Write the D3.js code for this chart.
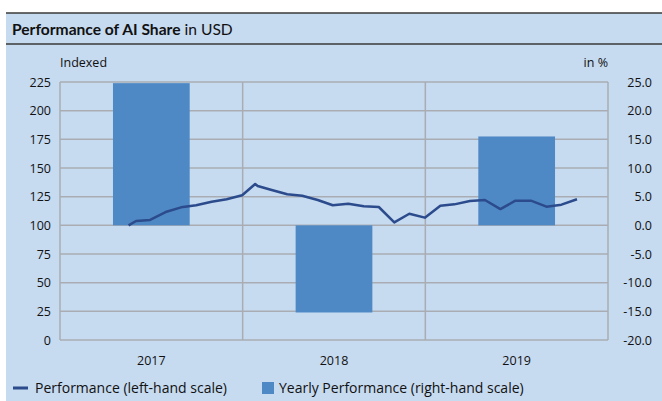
<!DOCTYPE html>
<html>
<head>
<meta charset="utf-8">
<script src="https://cdn.jsdelivr.net/npm/d3@7"></script>
<style>
  body { margin: 0; background: #ffffff; }
  svg { display: block; font-family: "Open Sans", "Noto Sans", sans-serif; }
</style>
</head>
<body>
<div id="chart"></div>
<script>
// ---------- data ----------
let years = ["2017", "2018", "2019"];
let yearlyPerf = [24.8, -15.2, 15.5];

let perfDates = ["2017-05-18", "2017-06-02", "2017-06-30", "2017-07-31", "2017-08-31", "2017-09-30",
  "2017-10-31", "2017-11-30", "2017-12-31", "2018-01-26", "2018-01-31", "2018-02-28",
  "2018-03-31", "2018-04-30", "2018-05-31", "2018-06-30", "2018-07-31", "2018-08-31",
  "2018-09-30", "2018-10-31", "2018-11-30", "2018-12-31", "2019-01-31", "2019-02-28",
  "2019-03-31", "2019-04-30", "2019-05-31", "2019-06-30", "2019-07-31", "2019-08-31",
  "2019-09-30", "2019-10-31"];
let perfValues = [100, 103.8, 104.7, 111.6, 115.7, 117.5,
  120.6, 122.7, 126.2, 136, 134.3, 130.8,
  127.1, 125.8, 122.1, 117.5, 118.9, 116.6,
  116, 102.6, 110.1, 106.7, 117.1, 118.3,
  121.2, 122.1, 114.2, 121.5, 121.5, 116.3,
  118, 122.7];

let leftTicks = [0, 25, 50, 75, 100, 125, 150, 175, 200, 225];
let rightTicks = [-20, -15, -10, -5, 0, 5, 10, 15, 20, 25];

// ---------- specs ----------
let width = 662, height = 401;
let plotLeft = 60, plotRight = 608, plotTop = 82, plotBottom = 340;
let bg = "#c6daf0", barColor = "#4f89c5", lineColor = "#2b4b8c", gridColor = "#a9adb3";

let svg = d3.select("#chart").append("svg")
  .attr("width", width)
  .attr("height", height);

// panel background + title band
svg.append("rect").attr("x", 6).attr("y", 13).attr("width", width - 6).attr("height", height - 13).style("fill", bg);
svg.append("line").attr("x1", 6).attr("x2", width).attr("y1", 13).attr("y2", 13).style("stroke", "#3a3a3a").style("stroke-width", 1.5);
svg.append("line").attr("x1", 6).attr("x2", width).attr("y1", 44).attr("y2", 44).style("stroke", "#3a3a3a").style("stroke-width", 1.5);

let title = svg.append("text").attr("x", 12).attr("y", 35)
  .style("font-size", "15.6px").style("fill", "#111").style("font-family", "Lato, 'Open Sans', sans-serif");
title.append("tspan").style("font-weight", "bold").text("Performance of AI Share");
title.append("tspan").text(" in USD");

// ---------- scales ----------
let parse = d3.timeParse("%Y-%m-%d");
let xTime = d3.scaleTime()
  .domain([parse("2017-01-01"), parse("2020-01-01")])
  .range([plotLeft, plotRight]);

let xBand = d3.scaleBand()
  .domain(years)
  .range([plotLeft, plotRight])
  .paddingInner(0)
  .paddingOuter(0);

let yLeft = d3.scaleLinear().domain([0, 225]).range([plotBottom, plotTop]);
let yRight = d3.scaleLinear().domain([-20, 25]).range([plotBottom, plotTop]);

// ---------- grid ----------
let grid = svg.append("g");
grid.selectAll("line.h").data(leftTicks).enter().append("line")
  .attr("x1", plotLeft).attr("x2", plotRight)
  .attr("y1", d => yLeft(d)).attr("y2", d => yLeft(d))
  .style("stroke", gridColor).style("stroke-width", 1.5);
grid.selectAll("line.v").data([plotLeft, xBand("2018"), xBand("2019"), plotRight]).enter().append("line")
  .attr("x1", d => d).attr("x2", d => d)
  .attr("y1", plotTop).attr("y2", plotBottom)
  .style("stroke", gridColor).style("stroke-width", 1.5);

// ---------- bars ----------
let barW = xBand.bandwidth() * 0.42;
svg.append("g").selectAll("rect").data(years).enter().append("rect")
  .attr("x", d => xBand(d) + (xBand.bandwidth() - barW) / 2)
  .attr("y", (d, i) => yRight(Math.max(0, yearlyPerf[i])))
  .attr("width", barW)
  .attr("height", (d, i) => Math.abs(yRight(yearlyPerf[i]) - yRight(0)))
  .style("fill", barColor);

// ---------- line ----------
let line = d3.line()
  .x((d, i) => xTime(parse(perfDates[i])))
  .y(d => yLeft(d));
svg.append("path").datum(perfValues)
  .attr("d", line)
  .style("fill", "none").style("stroke", lineColor).style("stroke-width", 2.5)
  .style("stroke-linejoin", "round");

// ---------- axes ----------
let axL = svg.append("g").attr("transform", `translate(${plotLeft - 9},0)`)
  .call(d3.axisLeft(yLeft).tickValues(leftTicks).tickSize(0).tickPadding(0));
let axR = svg.append("g").attr("transform", `translate(652,0)`)
  .call(d3.axisLeft(yRight).tickValues(rightTicks).tickSize(0).tickPadding(0)
    .tickFormat(d => d.toFixed(1)));
let axX = svg.append("g").attr("transform", `translate(0,${plotBottom + 10})`)
  .call(d3.axisBottom(xBand).tickSize(0).tickPadding(6));

[axL, axR, axX].forEach(ax => {
  ax.select(".domain").remove();
  ax.selectAll("text").style("font-size", "12.5px").style("fill", "#111").style("font-family", "'Open Sans', 'Noto Sans', sans-serif");
});

svg.append("text").attr("x", plotLeft).attr("y", 67).style("font-size", "12.5px").style("fill", "#111").text("Indexed");
svg.append("text").attr("x", plotRight).attr("y", 67).attr("text-anchor", "end").style("font-size", "12.5px").style("fill", "#111").text("in %");

// ---------- legend ----------
let leg = svg.append("g").attr("transform", "translate(0,393)");
leg.append("line").attr("x1", 13).attr("x2", 28).attr("y1", -5).attr("y2", -5)
  .style("stroke", lineColor).style("stroke-width", 3);
leg.append("text").attr("x", 35).attr("y", 0).style("font-size", "14px").style("fill", "#111")
  .text("Performance (left-hand scale)");
leg.append("rect").attr("x", 262).attr("y", -11).attr("width", 12).attr("height", 12).style("fill", barColor);
leg.append("text").attr("x", 279).attr("y", 0).style("font-size", "14px").style("fill", "#111")
  .text("Yearly Performance (right-hand scale)");
</script>
</body>
</html>
